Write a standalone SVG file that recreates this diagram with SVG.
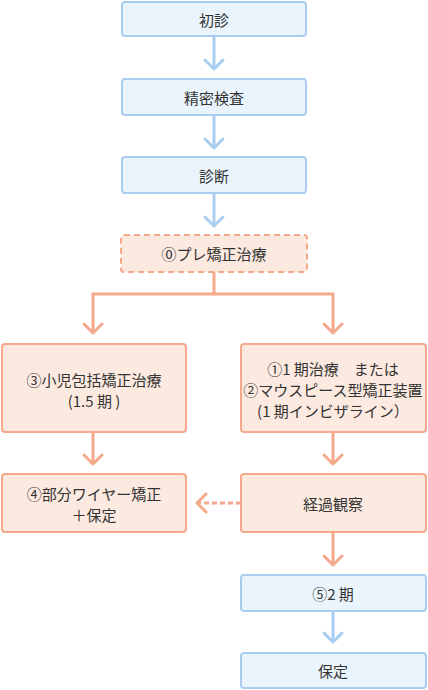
<svg xmlns="http://www.w3.org/2000/svg" width="428" height="690" viewBox="0 0 428 690">
<style>
.b{fill:#eaf4fc;stroke:#a9cdf0;stroke-width:2}
.o{fill:#fce9e0;stroke:#f5a98a;stroke-width:2}
.od{fill:#fce9e0;stroke:#f5a98a;stroke-width:2;stroke-dasharray:6 4}
text{font-family:"Noto Sans CJK JP","Noto Sans",sans-serif;font-size:15px;fill:#333;text-anchor:middle;dominant-baseline:central}
.lb{fill:none;stroke:#a9cdf0;stroke-width:3}
.lo{fill:none;stroke:#f5a98a;stroke-width:3}
.hb{fill:none;stroke:#a9cdf0;stroke-width:3;stroke-linecap:round;stroke-linejoin:round}
.ho{fill:none;stroke:#f5a98a;stroke-width:3;stroke-linecap:round;stroke-linejoin:round}
</style>
<g id="connectors">
<line class="lb" x1="214" y1="36" x2="214" y2="69"/><polyline class="hb" points="205,60 214,69 223,60"/>
<line class="lb" x1="214" y1="115" x2="214" y2="148"/><polyline class="hb" points="205,139 214,148 223,139"/>
<line class="lb" x1="214" y1="193" x2="214" y2="226"/><polyline class="hb" points="205,217 214,226 223,217"/>
<polyline class="lo" points="214,272 214,294 93,294 93,333"/><polyline class="ho" points="84,324 93,333 102,324"/>
<polyline class="lo" points="214,294 333,294 333,333"/><polyline class="ho" points="324,324 333,333 342,324"/>
<line class="lo" x1="93" y1="432" x2="93" y2="464"/><polyline class="ho" points="84,455 93,464 102,455"/>
<line class="lo" x1="333" y1="432" x2="333" y2="464"/><polyline class="ho" points="324,455 333,464 342,455"/>
<line class="lo" x1="241" y1="503" x2="198" y2="503" stroke-dasharray="5 3"/><polyline class="ho" points="206,494 197,503 206,512"/>
<line class="lo" x1="333" y1="532" x2="333" y2="565"/><polyline class="ho" points="324,556 333,565 342,556"/>
<line class="lb" x1="333" y1="611" x2="333" y2="642"/><polyline class="hb" points="324,633 333,642 342,633"/>
</g>
<g id="n1"><rect class="b" x="122" y="2" width="184" height="34" rx="3"/><text x="214" y="19">初診</text></g>
<g id="n2"><rect class="b" x="122" y="79" width="184" height="36" rx="3"/><text x="214" y="97">精密検査</text></g>
<g id="n3"><rect class="b" x="122" y="157" width="184" height="36" rx="3"/><text x="214" y="175">診断</text></g>
<g id="n0"><rect class="od" x="121" y="235" width="186" height="37" rx="3"/><text x="214" y="253">⓪プレ矯正治療</text></g>
<g id="nL1"><rect class="o" x="2" y="344" width="184" height="88" rx="3"/><text x="94" y="379">③小児包括矯正治療</text><text x="94" y="400">(1.5 期 )</text></g>
<g id="nR1"><rect class="o" x="241" y="344" width="185" height="88" rx="3"/><text x="333" y="368" xml:space="preserve">①1 期治療　または</text><text x="333" y="389">②マウスピース型矯正装置</text><text x="333" y="410">(1 期インビザライン）</text></g>
<g id="nL2"><rect class="o" x="2" y="474" width="184" height="58" rx="3"/><text x="94" y="493">④部分ワイヤー矯正</text><text x="94" y="514">＋保定</text></g>
<g id="nR2"><rect class="o" x="241" y="474" width="185" height="58" rx="3"/><text x="333" y="503">経過観察</text></g>
<g id="nR3"><rect class="b" x="241" y="575" width="185" height="36" rx="3"/><text x="333" y="593">⑤2 期</text></g>
<g id="nR4"><rect class="b" x="241" y="653" width="185" height="35" rx="3"/><text x="333" y="670">保定</text></g>
</svg>
